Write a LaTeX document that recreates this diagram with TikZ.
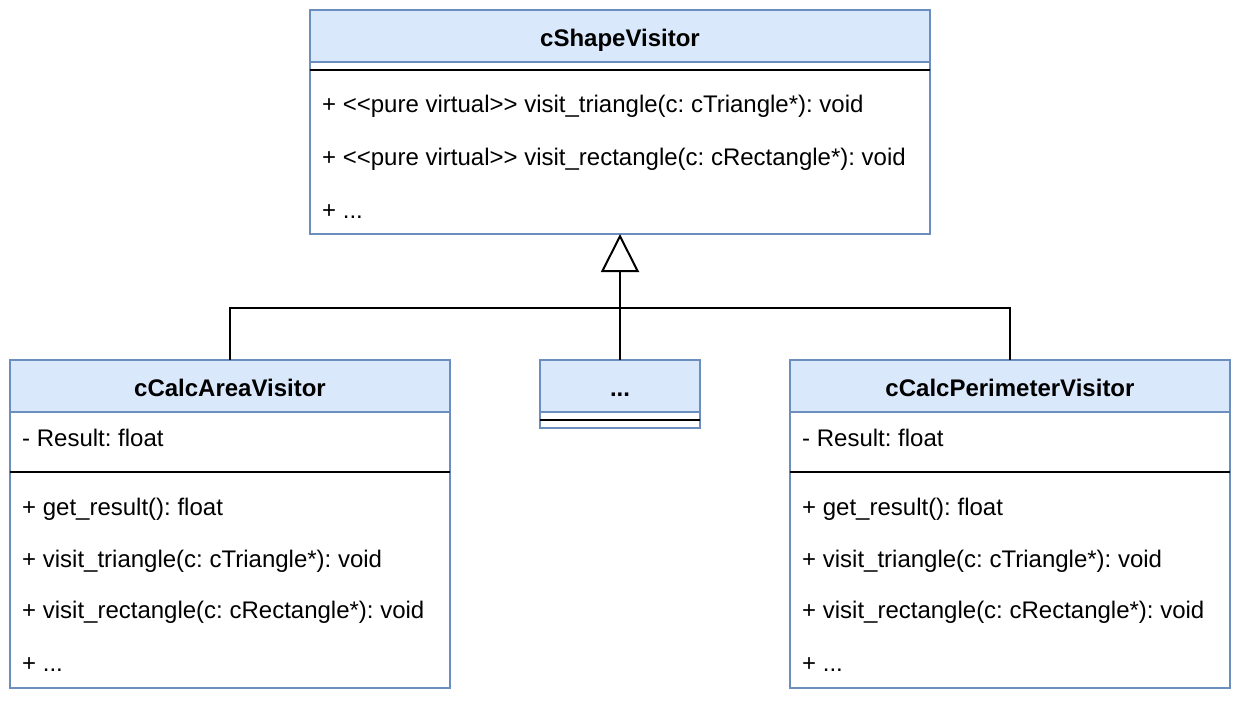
\documentclass[tikz,border=0pt]{standalone}
\usepackage{fontspec}
\setmainfont{Liberation Sans}
\usetikzlibrary{arrows.meta}
\definecolor{headfill}{HTML}{DAE8FC}
\definecolor{headline}{HTML}{6C8EBF}
\frenchspacing

\begin{document}
\begin{tikzpicture}[x=1pt,y=-1pt]
\tikzset{
  classhead/.style={draw=headline, fill=headfill, line width=2pt, minimum height=52pt,
    inner sep=0pt, outer sep=0pt, text height=21pt, text depth=1pt,
    font=\fontsize{24}{28}\selectfont\bfseries},
  classbody/.style={draw=headline, fill=white, line width=2pt, inner sep=0pt,
    outer sep=0pt, anchor=north},
  member/.style={anchor=base west, inner sep=0pt, font=\fontsize{24}{28}\selectfont},
  sepline/.style={black, line width=2pt},
  link/.style={black, line width=2pt},
}
\useasboundingbox (0,0) rectangle (1240,704);

% base class
\node[classhead, minimum width=620pt] (shape) at (620,36) {cShapeVisitor};
\node[classbody, minimum width=620pt, minimum height=172pt] (shapebody) at (shape.south) {};
\draw[sepline] ([yshift=-8pt]shapebody.north west) -- ([yshift=-8pt]shapebody.north east);
\node[member] (shapem1) at (322,112) {+ <\kern0pt<pure virtual>\kern0pt> visit\_triangle(c: cTriangle*): void};
\node[member] (shapem2) at (322,165) {+ <\kern0pt<pure virtual>\kern0pt> visit\_rectangle(c: cRectangle*): void};
\node[member] (shapem3) at (322,218) {+ ...};

% area visitor
\node[classhead, minimum width=440pt] (area) at (230,386) {cCalcAreaVisitor};
\node[classbody, minimum width=440pt, minimum height=276pt] (areabody) at (area.south) {};
\draw[sepline] ([yshift=-60pt]areabody.north west) -- ([yshift=-60pt]areabody.north east);
\node[member] (areaa1) at (22,446) {- Result: float};
\node[member] (aream1) at (22,515) {+ get\_result(): float};
\node[member] (aream2) at (22,567) {+ visit\_triangle(c: cTriangle*): void};
\node[member] (aream3) at (22,618) {+ visit\_rectangle(c: cRectangle*): void};
\node[member] (aream4) at (22,671) {+ ...};

% other visitors
\node[classhead, minimum width=160pt] (dots) at (620,386) {...};
\node[classbody, minimum width=160pt, minimum height=16pt] (dotsbody) at (dots.south) {};
\draw[sepline] ([yshift=-8pt]dotsbody.north west) -- ([yshift=-8pt]dotsbody.north east);

% perimeter visitor
\node[classhead, minimum width=440pt] (perim) at (1010,386) {cCalcPerimeterVisitor};
\node[classbody, minimum width=440pt, minimum height=276pt] (perimbody) at (perim.south) {};
\draw[sepline] ([yshift=-60pt]perimbody.north west) -- ([yshift=-60pt]perimbody.north east);
\node[member] (perima1) at (802,446) {- Result: float};
\node[member] (perimm1) at (802,515) {+ get\_result(): float};
\node[member] (perimm2) at (802,567) {+ visit\_triangle(c: cTriangle*): void};
\node[member] (perimm3) at (802,618) {+ visit\_rectangle(c: cRectangle*): void};
\node[member] (perimm4) at (802,671) {+ ...};

% inheritance
\coordinate (joint) at (620,308);
\draw[link, -{Triangle[open, length=38pt, width=38pt]}] (dots.north) -- (shapebody.south);
\draw[link] (area.north) |- (joint) -| (perim.north);
\end{tikzpicture}
\end{document}
